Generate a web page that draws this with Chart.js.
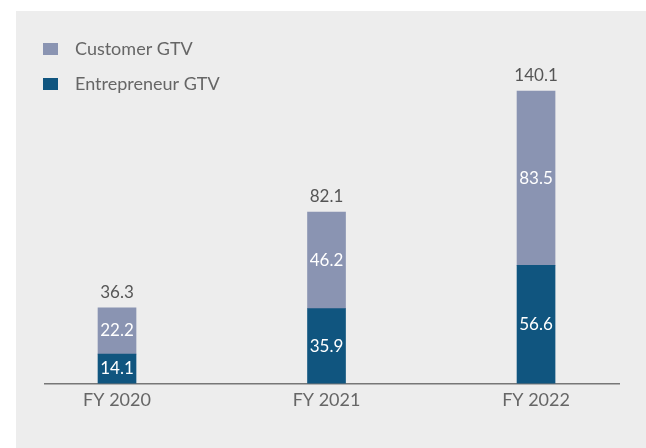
<!DOCTYPE html>
<html>
<head>
<meta charset="utf-8">
<script src="https://cdn.jsdelivr.net/npm/chart.js@4.4.1/dist/chart.umd.min.js"></script>
<style>
  html, body { margin: 0; padding: 0; background: #fff; }
  #panel { position: absolute; left: 16px; top: 11px; width: 630px; height: 437px; background: #ededed; }
</style>
</head>
<body>
<div id="panel"><canvas id="gtv" width="630" height="437"></canvas></div>
<script>
const years = ["FY 2020", "FY 2021", "FY 2022"];
const entrepreneurGtv = [14.1, 35.9, 56.6];
const customerGtv = [22.2, 46.2, 83.5];

const FONT = "Lato, 'Open Sans', sans-serif";

// value labels: inside each segment, and the stack total above
const barLabels = {
  id: "barLabels",
  afterDatasetsDraw(chart) {
    const ctx = chart.ctx;
    ctx.save();
    ctx.textAlign = "center";
    ctx.font = `17px ${FONT}`;
    chart.data.datasets.forEach((ds, di) => {
      const meta = chart.getDatasetMeta(di);
      meta.data.forEach((bar, i) => {
        ctx.fillStyle = "#ffffff";
        ctx.textBaseline = "middle";
        ctx.fillText(ds.data[i].y.toFixed(1), bar.x, (bar.y + bar.base) / 2);
      });
    });
    const top = chart.getDatasetMeta(chart.data.datasets.length - 1);
    top.data.forEach((bar, i) => {
      const total = entrepreneurGtv[i] + customerGtv[i];
      ctx.fillStyle = "#555555";
      ctx.textBaseline = "alphabetic";
      ctx.fillText(total.toFixed(1), bar.x, bar.y - 10);
    });
    ctx.restore();
  }
};

// stacked legend in the top-left corner, top series first
const cornerLegend = {
  id: "cornerLegend",
  afterDraw(chart) {
    const ctx = chart.ctx;
    ctx.save();
    ctx.font = `18px ${FONT}`;
    ctx.textBaseline = "middle";
    chart.data.datasets.slice().reverse().forEach((ds, row) => {
      const y = 38 + row * 35;
      ctx.fillStyle = ds.backgroundColor;
      ctx.fillRect(27, y - 6, 15, 12);
      ctx.fillStyle = "#666666";
      ctx.fillText(ds.label, 59, y);
    });
    ctx.restore();
  }
};

new Chart(document.getElementById("gtv"), {
  type: "bar",
  data: {
    datasets: [
      {
        label: "Entrepreneur GTV",
        data: entrepreneurGtv.map((v, i) => ({ x: i, y: v })),
        backgroundColor: "#10557f"
      },
      {
        label: "Customer GTV",
        data: customerGtv.map((v, i) => ({ x: i, y: v })),
        backgroundColor: "#8a94b2"
      }
    ]
  },
  options: {
    responsive: false,
    animation: false,
    barThickness: 38,
    layout: { padding: { left: 29, right: 27, top: 17.7, bottom: 30.8 } },
    plugins: {
      tooltip: { enabled: false },
      legend: { display: false }
    },
    scales: {
      x: {
        type: "linear",
        stacked: true,
        offset: false,
        min: -0.3437,
        max: 2.396,
        grid: { display: false, drawTicks: false },
        border: { color: "#777777", width: 1.5 },
        afterBuildTicks: (scale) => { scale.ticks = years.map((_, i) => ({ value: i })); },
        ticks: {
          padding: 6,
          color: "#666666",
          font: { family: FONT, size: 18 },
          callback: (v) => years[v]
        }
      },
      y: {
        stacked: true,
        display: false,
        min: 0,
        max: 170
      }
    }
  },
  plugins: [barLabels, cornerLegend]
});
</script>
</body>
</html>
